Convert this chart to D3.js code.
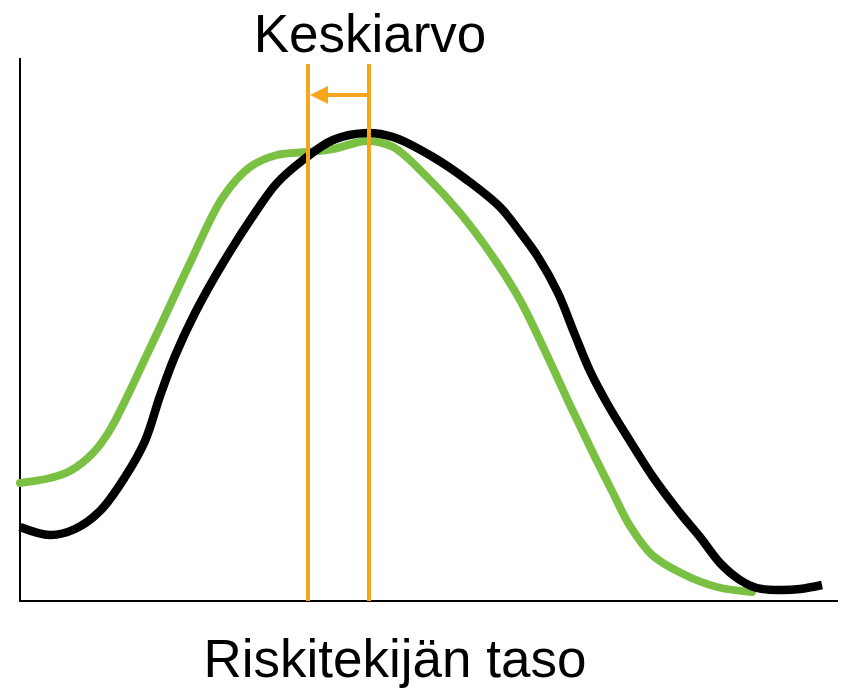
<!DOCTYPE html>
<html lang="fi">
<head>
<meta charset="UTF-8">
<title>Keskiarvo</title>
<script src="https://d3js.org/d3.v7.min.js"></script>
<style>
  body { margin: 0; padding: 0; background: #fff; }
  svg text { font-family: "Liberation Sans", Arial, sans-serif; fill: #000; }
</style>
</head>
<body>
<div id="chart"></div>
<script>
// risk level (x) and frequency (y)
var blackX = [0, 30, 55, 80, 105, 125, 140, 155, 175, 203, 237, 257, 283, 313, 347, 373, 413, 447, 480, 500, 518, 538, 555, 570, 588, 610, 633, 660, 680, 700, 720, 737, 760, 780, 802];
var blackY = [74, 66, 72, 90, 124, 160, 205, 245, 288, 338, 391, 418, 441, 461, 468, 464, 444, 421, 394, 369, 344, 308, 266, 230, 196, 160, 124, 88, 64, 38, 21, 13, 11, 12, 16];

var greenX = [0, 30, 50, 73, 90, 107, 123, 140, 170, 203, 230, 257, 287, 313, 347, 373, 407, 440, 473, 500, 525, 550, 572, 592, 610, 632, 663, 697, 732];
var greenY = [118, 123, 130, 148, 171, 204, 238, 274, 338, 404, 434, 446, 449, 452, 460, 454, 424, 388, 344, 301, 250, 196, 150, 110, 75, 46, 27, 14, 9];

// means before and after (x)
var means = [288, 349];

var width = 842, height = 689;
var mLeft = 20, mRight = 838, mTop = 58, mBottom = 601;

var x = d3.scaleLinear().domain([0, 818]).range([mLeft, mRight]);
var y = d3.scaleLinear().domain([0, 543]).range([mBottom, mTop]);

var svg = d3.select("#chart").append("svg")
    .attr("width", width)
    .attr("height", height)
    .attr("viewBox", [0, 0, width, height]);

// axes, no ticks
svg.append("line")
    .attr("x1", mLeft).attr("x2", mLeft)
    .attr("y1", mTop).attr("y2", mBottom + 1)
    .style("stroke", "#000").style("stroke-width", 2);
svg.append("line")
    .attr("x1", mLeft - 1).attr("x2", mRight)
    .attr("y1", mBottom).attr("y2", mBottom)
    .style("stroke", "#000").style("stroke-width", 2);

var line = d3.line()
    .x(d => x(d[0]))
    .y(d => y(d[1]))
    .curve(d3.curveCatmullRom.alpha(0.5));

svg.append("path")
    .datum(d3.zip(greenX, greenY))
    .attr("d", line)
    .style("fill", "none")
    .style("stroke", "#7AC143")
    .style("stroke-width", 8)
    .style("stroke-linecap", "round");

svg.append("path")
    .datum(d3.zip(blackX, blackY))
    .attr("d", line)
    .style("fill", "none")
    .style("stroke", "#000")
    .style("stroke-width", 8.5)
    .style("stroke-linejoin", "round");

// mean lines
var orange = "#F7A61C";
svg.selectAll(".mean")
    .data(means)
    .enter()
    .append("line")
    .attr("class", "mean")
    .attr("x1", d => x(d)).attr("x2", d => x(d))
    .attr("y1", 64).attr("y2", mBottom)
    .style("stroke", orange)
    .style("stroke-width", 4);

// arrow from new mean to old
var ay = 95;
svg.append("line")
    .attr("x1", x(means[1])).attr("x2", x(means[0]) + 16)
    .attr("y1", ay).attr("y2", ay)
    .style("stroke", orange)
    .style("stroke-width", 4);
svg.append("path")
    .attr("d", "M" + (x(means[0]) + 2) + "," + ay + "L" + (x(means[0]) + 20) + "," + (ay - 9) + "L" + (x(means[0]) + 20) + "," + (ay + 9) + "Z")
    .style("fill", orange);

svg.append("text")
    .attr("x", 370)
    .attr("y", 52)
    .attr("text-anchor", "middle")
    .style("font-size", "53px")
    .text("Keskiarvo");

svg.append("text")
    .attr("x", 395)
    .attr("y", 677)
    .attr("text-anchor", "middle")
    .style("font-size", "53px")
    .text("Riskitekijän taso");
</script>
</body>
</html>
